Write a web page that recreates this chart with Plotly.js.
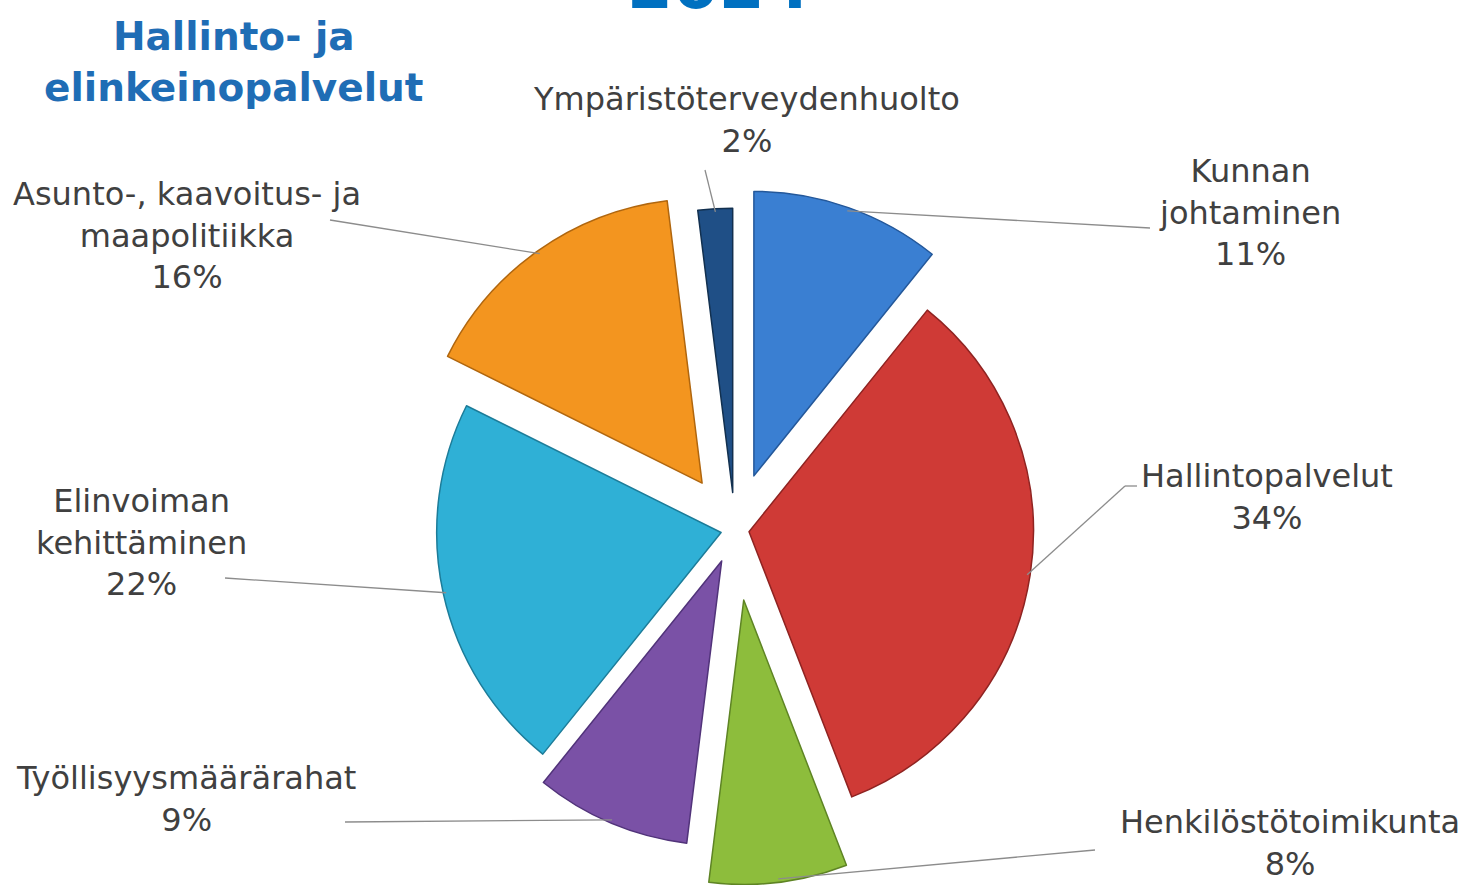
<!DOCTYPE html>
<html>
<head>
<meta charset="utf-8">
<script src="https://cdn.plot.ly/plotly-3.0.1.min.js"></script>
<style>
html,body{margin:0;padding:0;background:#ffffff;}
#chart{width:1466px;height:885px;}
</style>
</head>
<body>
<div id="chart"></div>
<script>
// ---- data ----
const categories = ['Kunnan johtaminen', 'Hallintopalvelut', 'Henkilöstötoimikunta',
  'Työllisyysmäärärahat', 'Elinvoiman kehittäminen', 'Asunto-, kaavoitus- ja maapolitiikka',
  'Ympäristöterveydenhuolto'];
const labelLines = ['Kunnan<br>johtaminen', 'Hallintopalvelut', 'Henkilöstötoimikunta',
  'Työllisyysmäärärahat', 'Elinvoiman<br>kehittäminen', 'Asunto-, kaavoitus- ja<br>maapolitiikka',
  'Ympäristöterveydenhuolto'];
const percents = [11, 34, 8, 9, 22, 16, 2];
const chartTitle = 'Hallinto- ja<br>elinkeinopalvelut';
const yearText = '2024';

// ---- styles / layout (not data) ----
const colors = ['#3a7fd2', '#cf3a36', '#8dbd3c', '#7a51a6', '#2fb0d6', '#f3951f', '#1f4f86'];
const edgeColors = ['#24589a', '#8f2321', '#5e8424', '#51337a', '#1c7c99', '#b0660e', '#12304f'];
const pulls = [0.2, 0.05, 0.25, 0.12, 0.05, 0.2, 0.13];
const W = 1466, H = 885;
// label block centres (px) and leader-line anchor near the label (px)
const labelPos = [[1250, 213], [1267, 497], [1290, 843], [186, 799], [141, 542], [187, 235], [746, 120]];
const lineAnchor = [[1150, 228], [1125, 486], [1095, 850], [345, 822], [225, 578], [330, 220], [705, 170]];

const px2x = v => v / W;
const px2y = v => 1 - v / H;

const trace = {
  type: 'pie',
  labels: categories,
  values: percents,
  sort: false,
  direction: 'clockwise',
  rotation: 0,
  pull: pulls,
  textinfo: 'none',
  hoverinfo: 'label+value',
  marker: { colors: colors, line: { color: edgeColors, width: 1.5 } },
  domain: { x: [0.2585, 0.7442], y: [0, 0.8034] },
  showlegend: false
};

const annotations = categories.map((c, i) => ({
  xref: 'paper', yref: 'paper',
  x: px2x(labelPos[i][0]), y: px2y(labelPos[i][1]),
  xanchor: 'center', yanchor: 'middle',
  text: labelLines[i] + '<br>' + percents[i] + '%',
  showarrow: false,
  align: 'center',
  font: { family: 'DejaVu Sans, sans-serif', size: 32, color: '#404040' }
}));
annotations.push({
  xref: 'paper', yref: 'paper', x: px2x(233), y: px2y(62),
  xanchor: 'center', yanchor: 'middle', align: 'center', showarrow: false,
  text: '<b>' + chartTitle + '</b>',
  font: { family: 'DejaVu Sans, sans-serif', size: 39, color: '#1f6db5' }
});
annotations.push({
  xref: 'paper', yref: 'paper', x: px2x(719), y: px2y(26),
  xanchor: 'center', yanchor: 'bottom', align: 'center', showarrow: false,
  text: '<b>' + yearText + '</b>',
  font: { family: 'DejaVu Sans, sans-serif', size: 66, color: '#0070c0' }
});

const layout = {
  width: W, height: H,
  margin: { l: 0, r: 0, t: 0, b: 0 },
  paper_bgcolor: '#ffffff',
  plot_bgcolor: '#ffffff',
  annotations: annotations,
  showlegend: false
};

const gd = document.getElementById('chart');
Plotly.newPlot(gd, [trace], layout, { displayModeBar: false, staticPlot: true }).then(() => {
  // leader lines: tip at the outer mid-point of each (pulled) slice, from the pie's own geometry
  let tips = [];
  try {
    const cd = gd.calcdata[0];
    const cx = cd[0].cx, cy = cd[0].cy;
    cd.forEach((pt, i) => {
      const k = 1 + pulls[i];
      tips.push([cx + pt.pxmid[0] * k * 0.99, cy + pt.pxmid[1] * k * 0.99]);
    });
  } catch (e) { tips = []; }
  if (tips.length !== categories.length) {
    const total = percents.reduce((a, b) => a + b, 0);
    const cx = W * (0.2585 + 0.7442) / 2, cy = H * (2 - 0.8034) / 2;
    const r = Math.min(W * (0.7442 - 0.2585), H * 0.8034) / (2 + 2 * Math.max(...pulls));
    let acc = 0; tips = [];
    percents.forEach((v, i) => {
      const a = (acc + v / 2) / total * 2 * Math.PI; acc += v;
      const k = r * (1 + pulls[i]) * 0.99;
      tips.push([cx + Math.sin(a) * k, cy - Math.cos(a) * k]);
    });
  }
  const shapes = tips.map((t, i) => ({
    type: 'line', xref: 'paper', yref: 'paper',
    x0: px2x(t[0]), y0: px2y(t[1]),
    x1: px2x(lineAnchor[i][0]), y1: px2y(lineAnchor[i][1]),
    line: { color: '#8c8c8c', width: 1.3 }
  }));
  // short horizontal lead-in next to the Hallintopalvelut label
  shapes.push({
    type: 'line', xref: 'paper', yref: 'paper',
    x0: px2x(lineAnchor[1][0]), y0: px2y(lineAnchor[1][1]),
    x1: px2x(lineAnchor[1][0] + 12), y1: px2y(lineAnchor[1][1]),
    line: { color: '#8c8c8c', width: 1.3 }
  });
  return Plotly.relayout(gd, { shapes: shapes });
});
</script>
</body>
</html>
